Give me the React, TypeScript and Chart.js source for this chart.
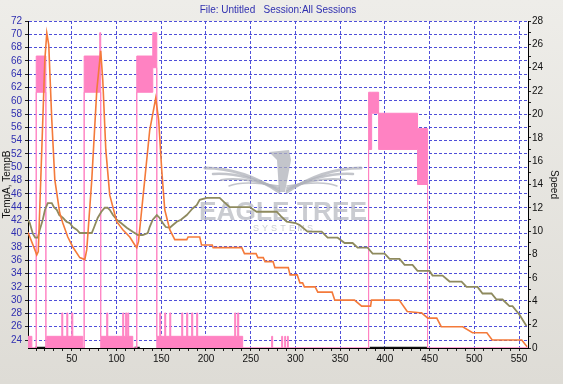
import React, { useEffect, useRef } from "react";
import { Chart, registerables } from "chart.js";

Chart.register(...registerables);

const TITLE = "File: Untitled   Session:All Sessions";
const FONT = '"Liberation Sans Narrow", "Arial Narrow", "Liberation Sans", sans-serif';

const X_MIN = 1;
const X_MAX = 560;
const xTickLabels = [50, 100, 150, 200, 250, 300, 350, 400, 450, 500, 550];
const leftTickLabels = [24, 26, 28, 30, 32, 34, 36, 38, 40, 42, 44, 46, 48, 50, 52, 54, 56, 58, 60, 62, 64, 66, 68, 70, 72];
const rightTickLabels = [0, 2, 4, 6, 8, 10, 12, 14, 16, 18, 20, 22, 24, 26, 28];

// TempA (orange)
const tempAX = [
  1, 8.6, 10.8, 12.5, 16.4, 19.8, 22, 24.2, 27.6, 31, 36.5, 39.9, 45.5, 51.1, 58.9, 64.5,
  66.7, 72.3, 77.9, 82.3, 84.6, 88, 92.4, 100.2, 107, 114.8, 120.4, 122.6,
  124.5, 131.5, 137.1, 143.8, 147.1, 150.5, 153.9, 159.5, 165.1, 178.5, 180, 193, 195, 207, 208,
  240, 243, 256, 258, 264, 266, 275, 277, 292, 294, 302, 305, 308, 310, 322, 325, 341, 344,
  366, 374, 384, 385, 416, 425, 439, 441, 448, 458, 463, 487, 498, 511, 514, 520, 553, 559,
];
const tempA = [
  40.2, 37.6, 36.8, 37.3, 52.6, 66.1, 70.2, 68.4, 57.1, 48.1, 43.1, 41.6, 39.5, 38.0, 36.4, 36.1,
  37.6, 48.1, 61.6, 67.5, 63.1, 52.6, 45.8, 41.8, 40.6, 39.5, 38.3, 37.9,
  38.8, 48.1, 55.6, 60.4, 57.1, 49.6, 43.6, 40.6, 39.1, 39.1, 39.5, 39.5, 38.3, 38.3, 37.9,
  37.9, 37.0, 37.0, 36.4, 36.4, 35.8, 35.8, 34.9, 34.9, 33.8, 33.8, 32.6, 32.6, 32.0, 32.0, 31.2, 31.2, 30.0,
  30.0, 29.1, 29.1, 30.0, 30.0, 28.3, 28.1, 28.1, 27.3, 27.3, 26.0, 26.0, 25.1, 25.1, 25.1, 24.0, 24.0, 23.0,
];

// TempB (olive)
const tempBX = [
  1, 3, 6.4, 9, 12, 14, 17.5, 20, 23.1, 27.6, 30, 33.2, 36, 39.9, 44, 47.7, 51, 55.5, 59, 72.3,
  75, 79, 83, 86.8, 90, 92.4, 96, 100.2, 105, 111.4, 118.1, 124, 129.3, 134.9, 137, 140.5, 145,
  148, 151.7, 155, 159.5, 163, 167.3, 172, 178.5, 181.8, 185, 189.6, 193, 200.8, 215.3, 220, 226.5,
  248.8, 256.6, 279, 284, 290.2, 300, 304.7, 313.6, 329.3, 336, 347.2, 355, 363.9, 369.5, 380.7,
  386.3, 399.7, 405.2, 416.4, 422, 430.9, 436.5, 449.9, 453.3, 464.5, 472.3, 485.7, 491.3, 503.6,
  509.2, 519.2, 524.8, 531.5, 539.3, 542.7, 550.5, 558.3,
];
const tempB = [
  42.1, 41.6, 40.0, 39.4, 39.4, 40.5, 42.1, 43.6, 44.6, 44.6, 44.0, 43.6, 42.8, 42.4, 41.8, 41.6, 41.0, 40.6, 40.1, 40.1,
  41.0, 42.4, 43.3, 43.9, 43.9, 43.6, 42.8, 42.1, 41.6, 40.9, 40.3, 39.8, 39.8, 40.1, 41.0, 42.1, 42.8,
  42.4, 41.6, 41.0, 40.9, 41.3, 41.8, 42.1, 42.8, 43.3, 43.8, 44.3, 45.1, 45.4, 45.4, 44.8, 44.0,
  44.0, 43.3, 43.3, 42.6, 41.8, 41.6, 41.3, 40.3, 40.3, 39.4, 39.4, 38.6, 38.6, 37.9, 37.9,
  37.0, 37.0, 36.2, 36.2, 35.3, 35.3, 34.4, 34.4, 33.7, 33.7, 32.8, 32.8, 32.0, 32.0,
  31.0, 31.0, 30.1, 30.1, 29.1, 29.1, 27.8, 26.1,
];

// Speed envelope (max / min within each stretch)
const speedX = [
  0.8, 5.3, 10.2, 21, 22, 38.8, 39.9, 44.4, 45.5, 49.9, 51.1, 62.2, 63.8, 81.2, 82.3,
  89, 90.2, 106.9, 108, 110.2, 111.4, 112.5, 113.6, 118.1, 122.6, 140.5, 145,
  148.3, 149.4, 153.9, 155, 159.5, 160.6, 172.9, 174, 178.4, 179.6, 184, 185.2, 189.6, 190.7,
  232.1, 233.2, 235.4, 236.6, 241, 273.4, 274.5, 284.6, 285.7, 288, 289, 291, 292,
  381.8, 385.2, 393, 436.5, 447.7, 560,
];
const speedHi = [
  1, 0, 25, 0, 1, 3, 1, 3, 1, 3, 1, 0, 25, 27, 1,
  3, 1, 3, 1, 3, 1, 3, 1, 0, 25, 27, 1,
  3, 1, 3, 1, 3, 1, 3, 1, 3, 1, 3, 1, 3, 1,
  3, 1, 3, 1, 0, 1, 0, 1, 0, 1, 0, 1, 0,
  21.9, 21.9, 20.1, 18.8, 0, 0,
];
const speedLo = [
  0, 0, 21.9, 0, 0, 0, 0, 0, 0, 0, 0, 0, 21.9, 21.9, 0,
  0, 0, 0, 0, 0, 0, 0, 0, 0, 21.9, 24, 0,
  0, 0, 0, 0, 0, 0, 0, 0, 0, 0, 0, 0, 0, 0,
  0, 0, 0, 0, 0, 0, 0, 0, 0, 0, 0, 0, 0,
  17, 20.1, 17, 14, 0, 0,
];

// dark marker along the bottom
const markX = [9, 22, 23, 120, 126, 127, 383, 447];
const markY = [0, 0, null, 0, 0, null, 0, 0];

const ORANGE = "#f47a3a";
const OLIVE = "#8e8a5e";
const PINK = "#ff82c2";
const GRID = "rgba(70,70,215,0.95)";
const BLUE_TEXT = "#2f2fb0";

const pts = (xs: number[], ys: (number | null)[]) => xs.map((x, i) => ({ x, y: ys[i] }));

const decorPlugin = {
  id: "decor",
  beforeDraw(chart: any) {
    const { ctx, chartArea: a, width, height } = chart;
    ctx.save();
    const g = ctx.createLinearGradient(0, 0, 0, height);
    g.addColorStop(0, "#eeede9");
    g.addColorStop(1, "#dedcd6");
    ctx.fillStyle = g;
    ctx.fillRect(0, 0, width, height);
    ctx.fillStyle = "#ffffff";
    ctx.fillRect(a.left, a.top, a.right - a.left, a.bottom - a.top);
    ctx.fillStyle = BLUE_TEXT;
    ctx.font = "10px " + FONT;
    ctx.textAlign = "center";
    ctx.textBaseline = "middle";
    ctx.fillText(TITLE, (a.left + a.right) / 2, 10);
    ctx.restore();
  },
  beforeDatasetsDraw(chart: any) {
    const { ctx } = chart;
    ctx.save();
    const cx = 283;
    // eagle wings
    ctx.strokeStyle = "rgba(175,178,185,0.75)";
    ctx.lineCap = "round";
    for (let i = 0; i < 4; i++) {
      ctx.lineWidth = 3 - i * 0.5;
      ctx.beginPath();
      ctx.moveTo(cx - 4, 192 - i * 2);
      ctx.quadraticCurveTo(cx - 40, 168 + i * 4, cx - 78 + i * 8, 168 + i * 6);
      ctx.stroke();
      ctx.beginPath();
      ctx.moveTo(cx + 4, 192 - i * 2);
      ctx.quadraticCurveTo(cx + 40, 168 + i * 4, cx + 78 - i * 8, 168 + i * 6);
      ctx.stroke();
    }
    ctx.fillStyle = "rgba(175,178,185,0.75)";
    ctx.beginPath();
    ctx.moveTo(cx - 14, 152);
    ctx.lineTo(cx + 6, 150);
    ctx.lineTo(cx + 8, 160);
    ctx.lineTo(cx + 2, 192);
    ctx.lineTo(cx - 4, 192);
    ctx.lineTo(cx - 6, 160);
    ctx.closePath();
    ctx.fill();
    // text
    ctx.fillStyle = "rgba(180,183,190,0.7)";
    ctx.textAlign = "center";
    ctx.textBaseline = "alphabetic";
    ctx.font = 'bold 30px "Liberation Sans", sans-serif';
    const w = ctx.measureText("EAGLE TREE").width;
    ctx.translate(cx, 220);
    ctx.scale(168 / w, 0.85);
    ctx.fillText("EAGLE TREE", 0, 0);
    ctx.setTransform(1, 0, 0, 1, 0, 0);
    ctx.font = '9px "Liberation Sans", sans-serif';
    ctx.fillStyle = "rgba(185,188,195,0.75)";
    const letters = "SYSTEMS".split("");
    letters.forEach((ch, i) => ctx.fillText(ch, cx - 27 + i * 9, 231));
    ctx.restore();
  },
};

export default function App() {
  const ref = useRef<HTMLCanvasElement | null>(null);

  useEffect(() => {
    document.body.style.margin = "0";
    const canvas = ref.current;
    if (!canvas) return;
    const chart = new Chart(canvas, {
      type: "line",
      data: {
        datasets: [
          {
            label: "TempA",
            data: pts(tempAX, tempA),
            borderColor: ORANGE,
            borderWidth: 1.6,
            pointRadius: 0,
            yAxisID: "yL",
            order: 0,
            fill: false,
          },
          {
            label: "TempB",
            data: pts(tempBX, tempB),
            borderColor: OLIVE,
            borderWidth: 1.8,
            pointRadius: 0,
            yAxisID: "yL",
            order: 1,
            fill: false,
          },
          {
            label: "SpeedMax",
            data: pts(speedX, speedHi),
            borderColor: PINK,
            borderWidth: 1,
            pointRadius: 0,
            stepped: true,
            yAxisID: "yR",
            order: 2,
            fill: false,
          },
          {
            label: "SpeedMin",
            data: pts(speedX, speedLo),
            borderColor: PINK,
            backgroundColor: PINK,
            borderWidth: 1,
            pointRadius: 0,
            stepped: true,
            yAxisID: "yR",
            order: 3,
            fill: 2,
          },
          {
            label: "Mark",
            data: pts(markX, markY),
            borderColor: "#111111",
            borderWidth: 2.5,
            pointRadius: 0,
            yAxisID: "yR",
            order: 4,
            spanGaps: false,
            fill: false,
          },
        ],
      },
      options: {
        animation: false,
        responsive: false,
        maintainAspectRatio: false,
        events: [],
        layout: { padding: { top: 21, left: 0, right: 0, bottom: 0 } },
        plugins: {
          legend: { display: false },
          tooltip: { enabled: false },
          title: { display: false },
        },
        scales: {
          x: {
            type: "linear",
            min: X_MIN,
            max: X_MAX,
            afterBuildTicks: (s: any) => {
              const t: any[] = [];
              for (let v = 10; v <= 550; v += 10) t.push({ value: v });
              s.ticks = t;
            },
            afterFit: (s: any) => {
              s.height = 36;
            },
            ticks: {
              autoSkip: false,
              maxRotation: 0,
              color: "#111",
              padding: 2,
              font: { family: FONT, size: 10 },
              callback: (v: any) => (xTickLabels.includes(Number(v)) ? String(v) : ""),
            },
            grid: {
              color: (c: any) => (c.tick && xTickLabels.includes(c.tick.value) ? GRID : "rgba(0,0,0,0)"),
              tickColor: "#222",
              tickLength: 3,
              lineWidth: 1,
            },
            border: { display: true, color: "#000", width: 1, dash: [3, 2] },
          },
          yL: {
            type: "linear",
            position: "left",
            min: 22.8,
            max: 72,
            afterBuildTicks: (s: any) => {
              s.ticks = leftTickLabels.map((v) => ({ value: v }));
            },
            afterFit: (s: any) => {
              s.width = 28;
            },
            ticks: {
              autoSkip: false,
              color: BLUE_TEXT,
              padding: 3,
              font: { family: FONT, size: 10 },
            },
            grid: { color: GRID, tickColor: "#222", tickLength: 3, lineWidth: 1 },
            border: { display: true, color: "#000", width: 1, dash: [3, 2] },
            title: {
              display: true,
              text: "TempA, TempB",
              color: "#111",
              font: { family: FONT, size: 10 },
              padding: { top: 1, bottom: 0 },
            },
          },
          yR: {
            type: "linear",
            position: "right",
            min: 0,
            max: 28,
            afterBuildTicks: (s: any) => {
              const t: any[] = [];
              for (let v = 0; v <= 28; v += 1) t.push({ value: v });
              s.ticks = t;
            },
            afterFit: (s: any) => {
              s.width = 35;
            },
            ticks: {
              autoSkip: false,
              color: "#111",
              padding: 1,
              font: { family: FONT, size: 10 },
              callback: (v: any) => (rightTickLabels.includes(Number(v)) ? String(v) : ""),
            },
            grid: { drawOnChartArea: false, tickColor: "#222", tickLength: 3 },
            border: { display: true, color: "#000", width: 1 },
            title: {
              display: true,
              text: "Speed",
              color: "#111",
              font: { family: FONT, size: 10 },
              padding: { top: 3, bottom: 0 },
            },
          },
        },
      },
      plugins: [decorPlugin],
    } as any);
    return () => chart.destroy();
  }, []);

  return <canvas ref={ref} width={563} height={384} style={{ display: "block", width: 563, height: 384 }} />;
}
